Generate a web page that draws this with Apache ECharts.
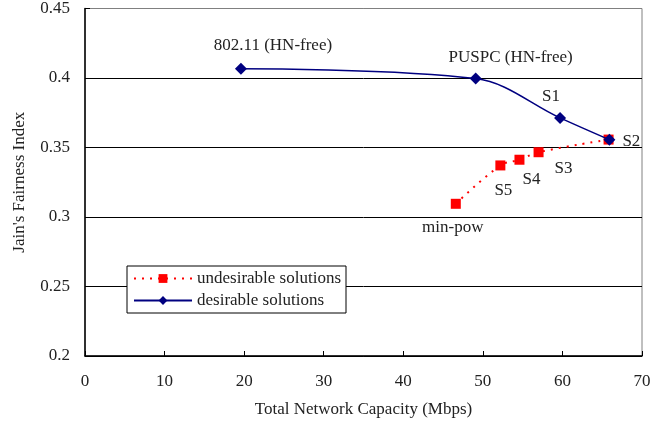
<!DOCTYPE html>
<html>
<head>
<meta charset="utf-8">
<script src="https://cdn.jsdelivr.net/npm/echarts@6/dist/echarts.min.js"></script>
<style>
  html, body { margin: 0; padding: 0; background: #fff; }
  #chart { width: 668px; height: 427px; }
</style>
</head>
<body>
<div id="chart"></div>
<script>
// desirable solutions (blue)
const desirableNames = ['802.11 (HN-free)', 'PUSPC (HN-free)', 'S1', 'S2']
const desirableX = [19.6, 49.1, 59.7, 65.9]
const desirableY = [0.4067, 0.3996, 0.3713, 0.3556]

// undesirable solutions (red)
const undesirableNames = ['min-pow', 'S5', 'S4', 'S3', '']
const undesirableX = [46.6, 52.2, 54.6, 57.0, 65.8]
const undesirableY = [0.3095, 0.3371, 0.3412, 0.3466, 0.3557]

const xTicks = [0, 10, 20, 30, 40, 50, 60, 70]
const yTicks = [0.2, 0.25, 0.3, 0.35, 0.4, 0.45]

const font = 'Liberation Serif'

// label placement relative to the marker
const labelOffsets = {
    '802.11 (HN-free)': [32, -23],
    'PUSPC (HN-free)': [35, -21],
    'S1': [-9, -21],
    'S2': [22, 2],
    'S3': [25, 16],
    'S4': [12, 20],
    'S5': [3, 25],
    'min-pow': [-3, 24]
}

function buildData (names, xs, ys) {
    return xs.map((x, i) => {
        const name = names[i]
        const item = { value: [x, ys[i]] }
        if (name) {
            item.label = {
                show: true,
                formatter: name,
                position: 'inside',
                offset: labelOffsets[name],
                color: '#222',
                fontFamily: font,
                fontSize: 17
            }
        }
        return item
    })
}

const chart = echarts.init(document.getElementById('chart'))
const options = {
    animation: false,
    backgroundColor: '#fff',
    grid: {
        show: true,
        left: 85,
        right: 26,
        top: 7,
        bottom: 71,
        borderColor: '#808080',
        borderWidth: 1
    },
    legend: {
        orient: 'vertical',
        left: 127,
        top: 266,
        padding: [4, 5, 4, 6],
        itemGap: 5,
        itemWidth: 58,
        itemHeight: 11,
        backgroundColor: '#fff',
        borderColor: '#000',
        borderWidth: 1,
        borderRadius: 0,
        textStyle: { fontFamily: font, fontSize: 17, color: '#222' },
        data: ['undesirable solutions', 'desirable solutions']
    },
    xAxis: {
        type: 'value',
        min: 0,
        max: 70,
        interval: 10,
        name: 'Total Network Capacity (Mbps)',
        nameLocation: 'middle',
        nameGap: 45,
        nameTextStyle: { fontFamily: font, fontSize: 17, color: '#222' },
        axisLine: { lineStyle: { color: '#000', width: 1.5 } },
        axisTick: { inside: true, length: 5, lineStyle: { color: '#000' } },
        axisLabel: {
            fontFamily: font, fontSize: 17, color: '#222', margin: 17,
            formatter: v => xTicks.includes(v) ? String(v) : ''
        },
        splitLine: { show: false }
    },
    yAxis: {
        type: 'value',
        min: 0.2,
        max: 0.45,
        interval: 0.05,
        name: "Jain's Fairness Index",
        nameLocation: 'middle',
        nameGap: 57,
        nameTextStyle: { fontFamily: font, fontSize: 17, color: '#222' },
        axisLine: { show: true, lineStyle: { color: '#000', width: 1.5 } },
        axisTick: { inside: true, length: 5, lineStyle: { color: '#000' } },
        axisLabel: {
            fontFamily: font, fontSize: 17, color: '#222', margin: 15,
            formatter: v => {
                const t = yTicks.find(y => Math.abs(y - v) < 1e-9)
                return t === undefined ? '' : String(t)
            }
        },
        splitLine: {
            show: true,
            lineStyle: { color: ['#000', '#000', '#000', '#000', '#000', '#808080'], width: 1 }
        }
    },
    series: [
        {
            name: 'undesirable solutions',
            type: 'line',
            smooth: 0.35,
            symbol: 'rect',
            symbolSize: 10,
            z: 2,
            itemStyle: { color: '#ff0000' },
            lineStyle: { color: '#ff0000', width: 2, type: [2, 6] },
            data: buildData(undesirableNames, undesirableX, undesirableY)
        },
        {
            name: 'desirable solutions',
            type: 'line',
            smooth: 0.35,
            symbol: 'diamond',
            symbolSize: 12,
            z: 3,
            itemStyle: { color: '#000080' },
            lineStyle: { color: '#000080', width: 1.5 },
            data: buildData(desirableNames, desirableX, desirableY)
        }
    ]
}
chart.setOption(options)
</script>
</body>
</html>
